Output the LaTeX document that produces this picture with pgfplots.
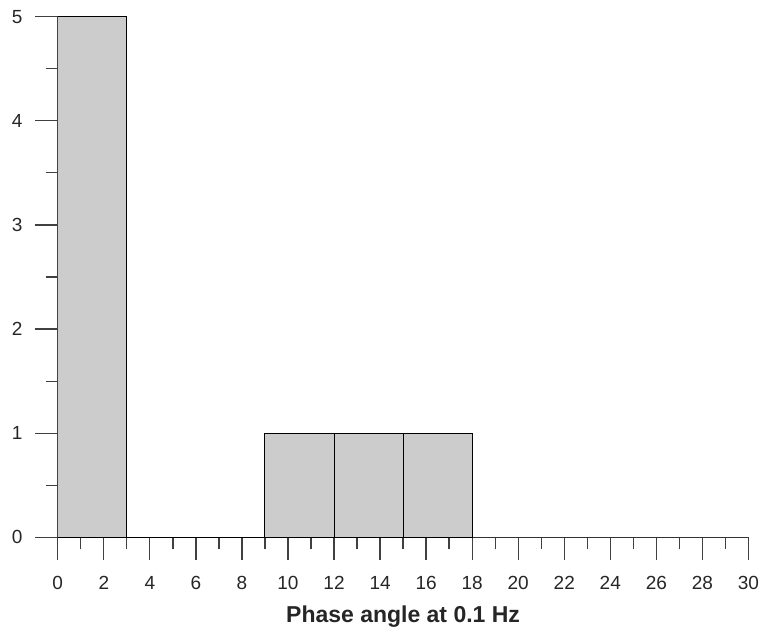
\documentclass[border=0pt]{standalone}
\usepackage{pgfplots}
\pgfplotsset{compat=1.18}
\usepackage{fontspec}
\setmainfont{Liberation Sans}
\begin{document}
\begin{tikzpicture}
\begin{axis}[
    scale only axis,
    width=691pt, height=521pt,
    xmin=0, xmax=30, ymin=0, ymax=5,
    axis lines*=left,
    axis line style={line width=1.3pt, black!80},
    xtick distance=2, minor x tick num=1,
    ytick={0,1,2,3,4,5}, minor y tick num=1,
    tick align=outside,
    major tick length=23pt, minor tick length=12pt,
    tick style={line width=1.3pt, black!75},
    /pgf/number format/assume math mode=true,
    tick label style={font=\fontsize{19}{21}\selectfont, text=black!85},
    xticklabel style={inner xsep=5pt, inner ysep=3pt, yshift=-13pt},
    yticklabel style={inner xsep=12pt, inner ysep=10pt},
    xlabel={\textbf{Phase angle at 0.1 Hz}},
    xlabel style={font=\fontsize{23}{26}\selectfont, text=black!85,
        inner sep=3pt, text depth=16pt, yshift=-10pt},
]
\addplot[ybar interval, fill=black!20, draw=black, line width=1pt]
  coordinates {(0,5) (3,0) (9,1) (12,1) (15,1) (18,1)};
\end{axis}
\end{tikzpicture}
\end{document}
